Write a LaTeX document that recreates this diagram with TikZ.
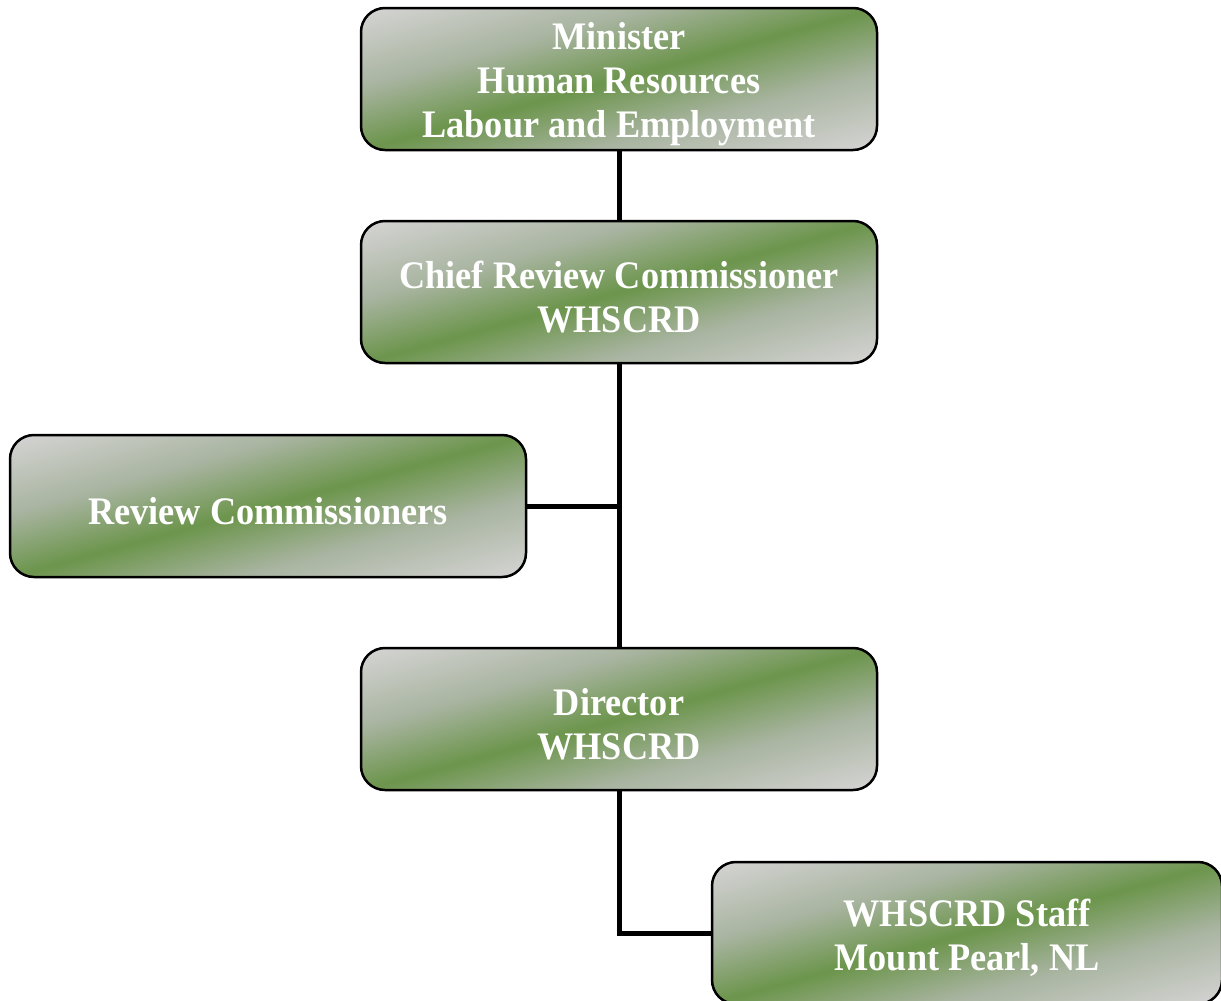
\documentclass[tikz,border=0pt]{standalone}
\usepackage{fontspec}
\setmainfont{Liberation Serif}[FakeStretch=0.93]
\definecolor{boxgrey}{RGB}{210,210,208}
\definecolor{boxmid}{RGB}{168,180,160}
\definecolor{boxgreen}{RGB}{108,149,76}
\pgfdeclareverticalshading{orgshade}{640bp}{color(0bp)=(boxgrey); color(15bp)=(boxgrey); color(85bp)=(boxmid); color(145bp)=(boxgreen); color(205bp)=(boxmid); color(275bp)=(boxgrey); color(290bp)=(boxgrey)}
\newcommand\orgstrut{\rule{0pt}{38pt}}
\begin{document}
\begin{tikzpicture}[x=1pt,y=-1pt,
  orgbox/.style={draw=black, line width=2.5pt, rounded corners=24pt,
    minimum width=516pt, minimum height=142pt, inner sep=0pt,
    path picture={\node[inner sep=0pt, rotate=15.4] at (path picture bounding box.center) {\pgfuseshading{orgshade}};},
    text=white, align=center,
    font=\fontsize{39}{44}\selectfont\bfseries},
  link/.style={line width=5pt, black}]
\useasboundingbox (0,0) rectangle (1221,1001);
\node[orgbox] (minister) at (619,79) {\orgstrut Minister\\Human Resources\\Labour and Employment};
\node[orgbox] (chief) at (619,292) {\orgstrut Chief Review Commissioner\\WHSCRD};
\node[orgbox] (review) at (268,506) {\orgstrut Review Commissioners};
\node[orgbox] (director) at (619,719) {\orgstrut Director\\WHSCRD};
\node[orgbox, minimum width=510pt] (staff) at (967,933) {\orgstrut WHSCRD Staff\\Mount Pearl, NL};
\draw[link] (minister.south) -- (chief.north);
\draw[link] (chief.south) -- (director.north);
\draw[link] (review.east) -- (review.east -| chief.south);
\draw[link] (director.south) |- (staff.west);
\end{tikzpicture}
\end{document}
